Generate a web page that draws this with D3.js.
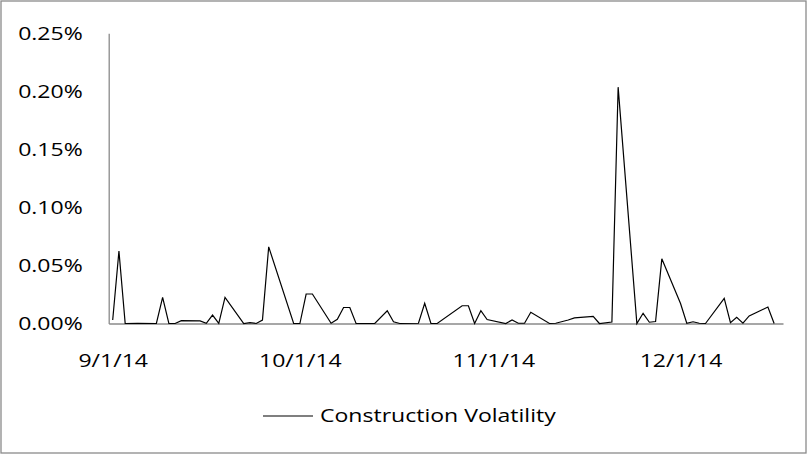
<!DOCTYPE html>
<html>
<head>
<meta charset="utf-8">
<script src="https://cdnjs.cloudflare.com/ajax/libs/d3/7.8.5/d3.min.js"></script>
<style>
  html, body { margin: 0; padding: 0; background: #fff; }
  svg { display: block; }
  text { font-family: "Open Sans", "Noto Sans", sans-serif; fill: #000; }
</style>
</head>
<body>
<svg id="chart" width="811" height="455"></svg>
<script>
// ---- data ----
const dates = ["2014-09-01","2014-09-02","2014-09-03","2014-09-05","2014-09-08","2014-09-09","2014-09-10","2014-09-11","2014-09-12","2014-09-15","2014-09-16","2014-09-17","2014-09-18","2014-09-19","2014-09-22","2014-09-23","2014-09-24","2014-09-25","2014-09-26","2014-09-30",
"2014-10-01","2014-10-02","2014-10-03","2014-10-06","2014-10-07","2014-10-08","2014-10-09","2014-10-10","2014-10-13","2014-10-15","2014-10-16","2014-10-17","2014-10-20","2014-10-21","2014-10-22","2014-10-23","2014-10-27","2014-10-28","2014-10-29","2014-10-30","2014-10-31",
"2014-11-03","2014-11-04","2014-11-05","2014-11-06","2014-11-07","2014-11-10","2014-11-11","2014-11-13","2014-11-14","2014-11-17","2014-11-18","2014-11-20","2014-11-21","2014-11-24","2014-11-25","2014-11-26","2014-11-27","2014-11-28",
"2014-12-01","2014-12-02","2014-12-03","2014-12-04","2014-12-05","2014-12-08","2014-12-09","2014-12-10","2014-12-11","2014-12-12","2014-12-15","2014-12-16"];
// values in percent
const volatilityPct = [0.0030,0.0624,0,0.0002,0,0.0225,0,0,0.0024,0.0022,0.0002,0.0073,0.0002,0.0225,0,0.0007,0,0.0030,0.0660,0,
0,0.0254,0.0254,0.0002,0.0036,0.0138,0.0138,0,0,0.0110,0.0015,0,0.0002,0.0174,0,0,0.0153,0.0153,0,0.0110,0.0034,
0,0.0030,0.0002,0.0002,0.0097,0,0.0002,0.0030,0.0048,0.0062,0,0.0013,0.2036,0,0.0088,0.0011,0.0017,0.0557,
0.0172,0.0002,0.0015,0.0002,0,0.0217,0.0007,0.0053,0.0003,0.0065,0.0142,0];
const seriesName = "Construction Volatility";
const yTicks = [0, 0.0005, 0.0010, 0.0015, 0.0020, 0.0025];
const xTickDates = ["2014-09-01","2014-10-01","2014-11-01","2014-12-01"];
const xTickLabels = ["9/1/14","10/1/14","11/1/14","12/1/14"];

// ---- setup ----
const parse = d3.utcParse("%Y-%m-%d");
const data = dates.map((d, i) => ({ date: parse(d), value: volatilityPct[i] / 100 }));

const svg = d3.select("#chart");
const SX = 1.28; // horizontal text stretch
const FS = 18;

// outer frame
svg.append("rect")
  .attr("x", 1).attr("y", 1).attr("width", 805).attr("height", 452)
  .attr("fill", "#fff").attr("stroke", "#8a8a8a").attr("stroke-width", 1.3);

const x = d3.scaleUtc()
  .domain([Date.UTC(2014, 7, 31, 8, 37), Date.UTC(2014, 11, 17, 10, 5)])
  .range([108.7, 783]);
const y = d3.scaleLinear().domain([0, 0.0025]).range([323.5, 33.3]);

// y axis
const yAxis = svg.append("g")
  .attr("transform", "translate(108.7,0)")
  .call(d3.axisLeft(y).tickValues(yTicks).tickFormat(d3.format(".2%")).tickSize(0).tickPadding(0));
yAxis.select(".domain").attr("stroke", "#8a8a8a").attr("stroke-width", 1.3);
yAxis.selectAll("text")
  .attr("font-size", FS)
  .attr("font-family", "Open Sans")
  .attr("x", -26 / SX)
  .attr("dy", "0.36em")
  .attr("transform", `scale(${SX},1)`);

// x axis
const xAxis = svg.append("g")
  .attr("transform", "translate(0,323.5)")
  .call(d3.axisBottom(x)
    .tickValues(xTickDates.map(parse))
    .tickFormat((d, i) => xTickLabels[i])
    .tickSize(0).tickPadding(0));
xAxis.select(".domain").attr("stroke", "#8a8a8a").attr("stroke-width", 1.3);
xAxis.selectAll("text")
  .attr("font-size", FS)
  .attr("font-family", "Open Sans")
  .attr("y", 43.5)
  .attr("dy", 0)
  .attr("transform", function () {
    return `scale(${SX},1)`;
  })
  .each(function () {
    // keep centered after scaling: divide tick-group offset is already via g transform; text x=0
  });

// line
const line = d3.line().x(d => x(d.date)).y(d => y(d.value));
svg.append("path")
  .datum(data)
  .attr("d", line)
  .attr("fill", "none")
  .attr("stroke", "#000")
  .attr("stroke-width", 1.2)
  .attr("stroke-linejoin", "miter");

// legend
const lg = svg.append("g");
lg.append("line")
  .attr("x1", 263).attr("x2", 313).attr("y1", 416).attr("y2", 416)
  .attr("stroke", "#000").attr("stroke-width", 1.2);
lg.append("text")
  .attr("x", 320 / SX).attr("y", 422.5)
  .attr("font-size", FS)
  .attr("transform", `scale(${SX},1)`)
  .text(seriesName);
</script>
</body>
</html>
